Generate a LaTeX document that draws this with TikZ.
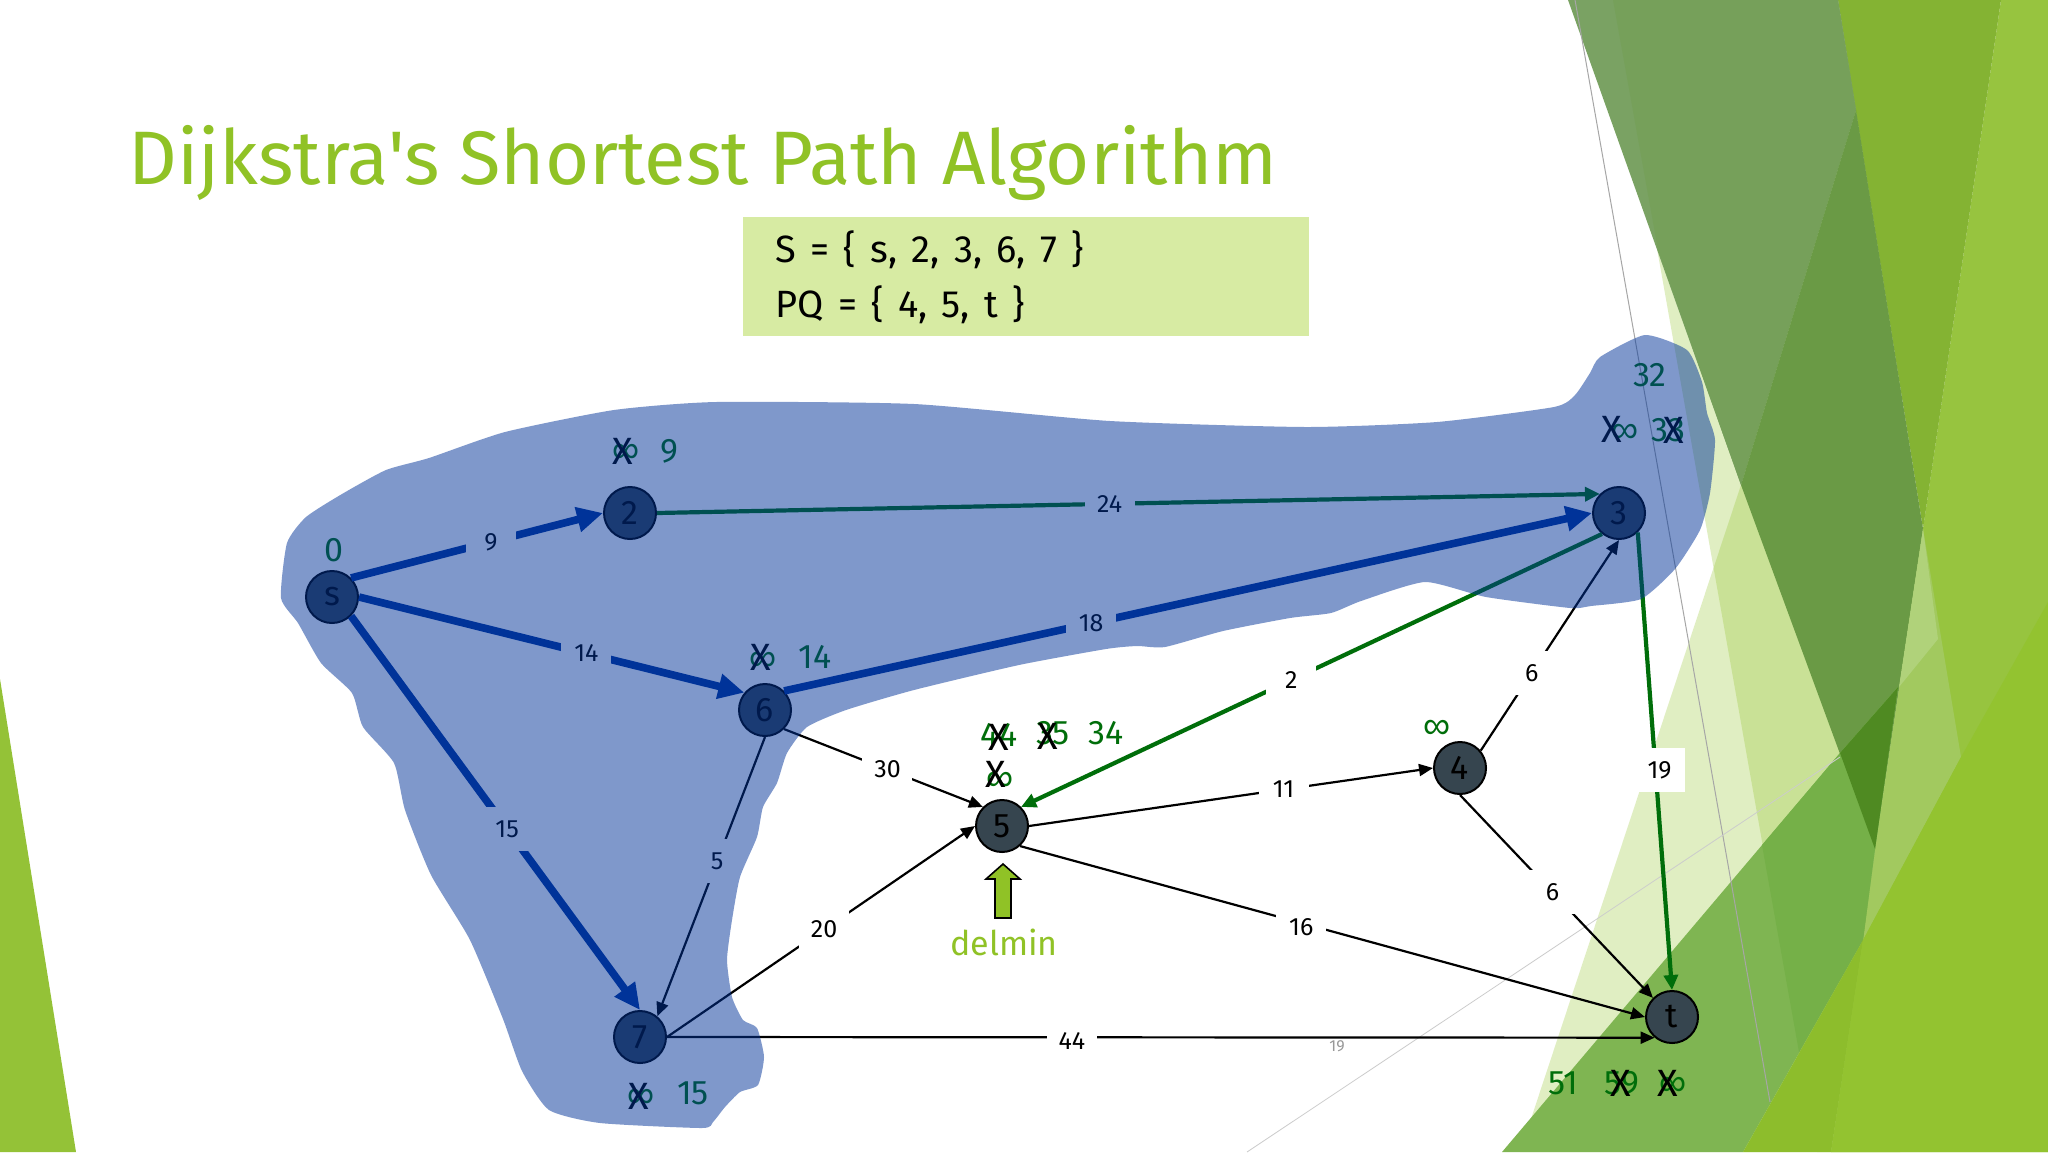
\documentclass[tikz,border=0pt]{standalone}
\usepackage{fontspec}
\setmainfont[Ligatures=TeXOff]{Fira Sans}
\newfontfamily\inffont{Liberation Sans}
\usetikzlibrary{arrows.meta}
\definecolor{titleg}{HTML}{90C226}
\definecolor{boxg}{HTML}{D7EBA3}
\definecolor{costg}{HTML}{006E0A}
\definecolor{blobb}{HTML}{003399}
\definecolor{nodeg}{HTML}{36454F}
\definecolor{faceta}{HTML}{94C237}
\definecolor{facetb}{HTML}{97C43F}
\definecolor{facetc}{HTML}{84B333}
\definecolor{facetd}{HTML}{7AA263}
\definecolor{facete}{HTML}{76A05A}
\definecolor{facetf}{HTML}{6A9A45}
\definecolor{facetg}{HTML}{A2C95F}
\definecolor{faceth}{HTML}{B0D27A}
\definecolor{faceti}{HTML}{7FB552}
\definecolor{facetj}{HTML}{75B048}
\definecolor{facetk}{HTML}{4F8A22}
\definecolor{facetl}{HTML}{8DBD2C}
\definecolor{facetm}{HTML}{93C330}
\tikzset{
    mynode/.style = {circle, line width=1pt, draw=black, align=center, fill=nodeg, minimum size=26pt, inner sep=0, font=\fontsize{17}{20}\selectfont, text=black},
    lbl/.style = {fill=white, inner sep=0, minimum width=25pt, minimum height=22pt, font=\fontsize{12.5}{15}\selectfont, text=black},
    edgen/.style = {-{Triangle[length=7pt,width=6pt]}, line width=1.1pt, black},
    edgeg/.style = {-{Triangle[length=7.5pt,width=7pt]}, line width=2.1pt, costg},
    edgeb/.style = {-{Triangle[length=13pt,width=12pt]}, line width=3.8pt, blobb},
    cost/.style = {font=\fontsize{17}{20}\selectfont, text=costg, inner sep=0},
    inf/.style = {font=\inffont\fontsize{19}{20}\selectfont, text=costg, inner sep=0},
    crossx/.style = {font=\fontsize{19}{20}\selectfont, text=black, inner sep=0},
    infobox/.style = {fill=boxg, anchor=north west, text width=251pt, inner xsep=16pt, inner ysep=0, minimum height=59.5pt, align=left, font=\fontsize{19}{27.5}\selectfont, text=black}
}

\begin{document}
\begin{tikzpicture}[x=0.5pt,y=-0.5pt]
\useasboundingbox (0,0) rectangle (2048,1152);
\fill[white] (0,0) rectangle (2048,1152);

% background
\fill[faceta] (0,679) -- (76,1152) -- (0,1152) -- cycle;
\fill[titleg, fill opacity=.28] (1741,485) -- (1520,1152) -- (1900,1152) -- (1900,485) -- cycle;
\fill[titleg, fill opacity=.28] (1613,0) -- (1900,0) -- (1900,1152) -- (1817,1152) -- cycle;
\fill[facetb] (2001,0) -- (2048,0) -- (2048,1152) -- (1831,1152) -- cycle;
\fill[facetc] (1838,0) -- (2001,0) -- (1923,529) -- cycle;
\fill[facetd] (1568,0) -- (1838,0) -- (1856,110) -- (1741,485) -- cycle;
\fill[facete] (1613,0) -- (1838,0) -- (1856,110) -- (1741,485) -- (1658,250) -- cycle;
\fill[facetf] (1741,485) -- (1856,110) -- (1923,529) -- (1875,849) -- cycle;
\fill[facetg] (1923,529) -- (1961,757) -- (1863,940) -- (1875,849) -- cycle;
\fill[faceth] (1923,529) -- (1938,639) -- (1899,687) -- cycle;
\fill[faceti] (1502,1152) -- (1840,753) -- (1898,687) -- (1875,849) -- (1863,940) -- (1743,1152) -- cycle;
\fill[facetj] (1762,845) -- (1840,753) -- (1898,687) -- (1875,849) -- (1863,940) -- (1799,1052) -- cycle;
\fill[facetk] (1840,753) -- (1898,687) -- (1875,849) -- cycle;
\fill[facetl] (1743,1152) -- (1863,940) -- (1831,1152) -- cycle;
\fill[facetm] (1863,940) -- (1961,757) -- (2048,602) -- (2048,1152) -- (1831,1152) -- cycle;
\draw[gray!70, line width=.5pt] (1575,0) -- (1770,1102);
\draw[gray!40, line width=.4pt] (1247,1152) -- (1840,757);

\node[anchor=base west, inner sep=0, font=\fontsize{37.9}{44}\selectfont, text=titleg] at (128,184) (title) {Dijkstra's Shortest Path Algorithm};
\node[infobox] at (743,217) (info) {\spaceskip=7.2pt\relax S = \{ s, 2, 3, 6, 7 \}\\PQ = \{ 4, 5, t \}};
\node[inner sep=0, font=\fontsize{8}{10}\selectfont, text=gray!80] at (1337,1046) (page) {19};

\node[mynode] at ( 332,  597) (s) {s};
\node[mynode] at ( 630,  513) (2) {2};
\node[mynode] at (1619,  513) (3) {3};
\node[mynode] at (1460,  768) (4) {4};
\node[mynode] at (1002,  826) (5) {5};
\node[mynode] at ( 765,  710) (6) {6};
\node[mynode] at ( 640, 1037) (7) {7};
\node[mynode] at (1672, 1017) (t) {t};

\draw[edgeb] (s.45) -- node[lbl,pos=.555] {9} (2.west);
\draw[edgeb] (s.east) -- node[lbl,pos=.59] {14} (6.140);
\draw[edgeb] (s.-45) -- node[lbl,pos=.54] {15} (7.north);
\draw[edgeb] (6.45) -- node[lbl,pos=.38] {18} (3.west);
\draw[edgeg] (2.east) -- node[lbl,pos=.48] {24} (3.135);
\draw[edgeg] (3.231) -- node[lbl,pos=.535] {2} (5.45);
\draw[edgeg] (3.-46) -- node[lbl,pos=.52,xshift=2pt] {19} (t.north);
\draw[edgen] (6.-45) -- node[lbl,pos=.52] {30} (5.135);
\draw[edgen] (6.south) -- node[lbl,pos=.445] {5} (7.50);
\draw[edgen] (7.east) -- node[lbl,pos=.51] {20} (5.west);
\draw[edgen] (7.east) -- node[lbl,pos=.41,yshift=-2pt] {44} (t.230);
\draw[edgen] (5.east) -- node[lbl,pos=.63] {11} (4.west);
\draw[edgen] (5.-48) -- node[lbl,pos=.45,yshift=-2pt] {16} (t.west);
\draw[edgen] (4.40) -- node[lbl,pos=.37] {6} (3.south);
\draw[edgen] (4.south) -- node[lbl,pos=.48] {6} (t.135);

% distances
\node[cost] at ( 334,  550) (ds) {0};
\node[inf] at ( 626,  453) (i2) {∞};
\node[crossx] at ( 623,  451) (x2) {X};
\node[cost] at ( 669,  451) (d2) {9};
\node[cost] at (1650,  375) (d3a) {32};
\node[inf] at (1625,  433) (i3) {∞};
\node[crossx] at (1612,  429) (x3a) {X};
\node[cost] at (1668,  430) (d3b) {33};
\node[crossx] at (1674,  430) (x3b) {X};
\node[inf] at (1437,  729) (i4) {∞};
\node[inf] at (1000,  781) (i5) {∞};
\node[crossx] at ( 996,  774) (x5a) {X};
\node[cost] at ( 999,  735) (d5a) {44};
\node[crossx] at ( 999,  737) (x5b) {X};
\node[cost] at (1053,  733) (d5b) {35};
\node[crossx] at (1048,  736) (x5c) {X};
\node[cost] at (1106,  733) (d5c) {34};
\node[inf] at ( 763,  661) (i6) {∞};
\node[crossx] at ( 761,  657) (x6) {X};
\node[cost] at ( 815,  657) (d6) {14};
\node[inf] at ( 641, 1098) (i7) {∞};
\node[crossx] at ( 639, 1096) (x7) {X};
\node[cost] at ( 693, 1093) (d7) {15};
\node[cost] at (1563, 1083) (dta) {51};
\node[cost] at (1622, 1083) (dtb) {59};
\node[crossx] at (1621, 1083) (xta) {X};
\node[inf] at (1673, 1086) (it) {∞};
\node[crossx] at (1668, 1083) (xtb) {X};

% delmin
\coordinate (dtip) at (1003,864);
\fill[titleg, draw=black, line width=.8pt] (995,918) -- (995,879) -- (986,879) -- (dtip) -- (1020,879) -- (1011,879) -- (1011,918) -- cycle;
\node[inner sep=0, font=\fontsize{17}{20}\selectfont, text=titleg] at (1004,942) (delmin) {delmin};

% explored set
\fill[blobb, fill opacity=.5] plot[smooth cycle, tension=.35] coordinates {
(281,598) (287,543) (306,517) (342,494) (386,470) (429,458) (505,432) (614,410) (716,402) (914,404)
(1110,421) (1306,427) (1437,422) (1554,407) (1575,395) (1590,373) (1600,357) (1645,335) (1687,350) (1702,382)
(1707,413) (1715,440) (1710,493) (1700,530) (1675,569) (1641,599) (1591,606) (1570,608) (1486,597) (1425,582)
(1361,601) (1331,613) (1290,618) (1223,631) (1165,647) (1137,646) (1106,649) (1019,665) (914,690) (846,710)
(807,727) (787,753) (777,783) (763,807) (757,837) (740,877) (732,920) (727,960) (732,997) (743,1020)
(757,1028) (764,1057) (758,1085) (740,1092) (725,1107) (713,1122) (702,1128) (600,1123) (549,1110) (522,1071)
(503,1019) (470,940) (431,875) (405,810) (394,763) (363,727) (352,693) (321,663) (298,623)};

\end{tikzpicture}
\end{document}
